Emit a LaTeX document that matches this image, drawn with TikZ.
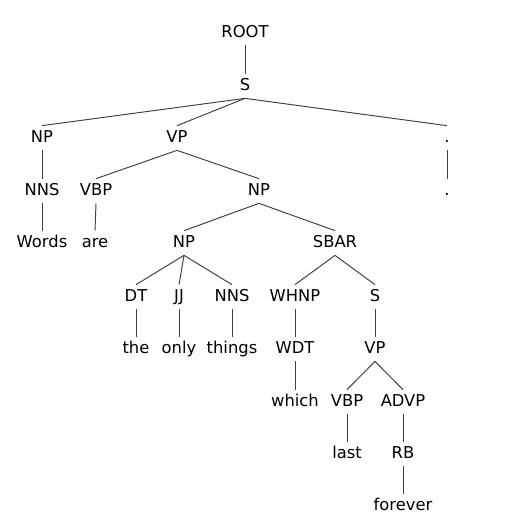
\documentclass[tikz,border=0pt]{standalone}
\usepackage{fontspec}
\setmainfont{DejaVu Sans}
\tikzset{
  lbl/.style={inner xsep=1pt, inner ysep=0.09cm, text height=0.24cm, text depth=0.06cm, font=\fontsize{9.3}{11}\selectfont},
  branch/.style={draw=black!75, line width=0.55pt}
}
\begin{document}
\begin{tikzpicture}[x=0.02cm, y=-0.02cm]
\useasboundingbox (0,0) rectangle (516,531);
% labels, one row per level
\node[lbl] (root) at (245,33) {ROOT};
\node[lbl] (s) at (245,86) {S};
\node[lbl] (np) at (42,138) {NP};
\node[lbl] (vp) at (177,138) {VP};
\node[lbl] (dot) at (447,138) {.};
\node[lbl] (nns) at (42,191) {NNS};
\node[lbl] (vbp) at (96,191) {VBP};
\node[lbl] (npb) at (259,191) {NP};
\node[lbl] (dotb) at (447,191) {.};
\node[lbl] (words) at (42,243) {Words};
\node[lbl] (are) at (95,243) {are};
\node[lbl] (npc) at (184,243) {NP};
\node[lbl] (sbar) at (335,243) {SBAR};
\node[lbl] (dt) at (136,297) {DT};
\node[lbl] (jj) at (179,297) {JJ};
\node[lbl] (nnsb) at (232,297) {NNS};
\node[lbl] (whnp) at (295,297) {WHNP};
\node[lbl] (sb) at (375,297) {S};
\node[lbl] (the) at (136,349) {the};
\node[lbl] (only) at (179,349) {only};
\node[lbl] (things) at (232,349) {things};
\node[lbl] (wdt) at (295,349) {WDT};
\node[lbl] (vpb) at (375,349) {VP};
\node[lbl] (which) at (295,402) {which};
\node[lbl] (vbpb) at (347,402) {VBP};
\node[lbl] (advp) at (403,402) {ADVP};
\node[lbl] (last) at (347,454) {last};
\node[lbl] (rb) at (403,454) {RB};
\node[lbl] (forever) at (403,506) {forever};
% branches
\draw[branch] (root.south) -- (s.north);
\draw[branch] (s.south) -- (np.north);
\draw[branch] (s.south) -- (vp.north);
\draw[branch] (s.south) -- (dot.north);
\draw[branch] (np.south) -- (nns.north);
\draw[branch] (vp.south) -- (vbp.north);
\draw[branch] (vp.south) -- (npb.north);
\draw[branch] (dot.south) -- (dotb.north);
\draw[branch] (nns.south) -- (words.north);
\draw[branch] (vbp.south) -- (are.north);
\draw[branch] (npb.south) -- (npc.north);
\draw[branch] (npb.south) -- (sbar.north);
\draw[branch] (npc.south) -- (dt.north);
\draw[branch] (npc.south) -- (jj.north);
\draw[branch] (npc.south) -- (nnsb.north);
\draw[branch] (sbar.south) -- (whnp.north);
\draw[branch] (sbar.south) -- (sb.north);
\draw[branch] (dt.south) -- (the.north);
\draw[branch] (jj.south) -- (only.north);
\draw[branch] (nnsb.south) -- (things.north);
\draw[branch] (whnp.south) -- (wdt.north);
\draw[branch] (sb.south) -- (vpb.north);
\draw[branch] (wdt.south) -- (which.north);
\draw[branch] (vpb.south) -- (vbpb.north);
\draw[branch] (vpb.south) -- (advp.north);
\draw[branch] (vbpb.south) -- (last.north);
\draw[branch] (advp.south) -- (rb.north);
\draw[branch] (rb.south) -- (forever.north);
\end{tikzpicture}
\end{document}
